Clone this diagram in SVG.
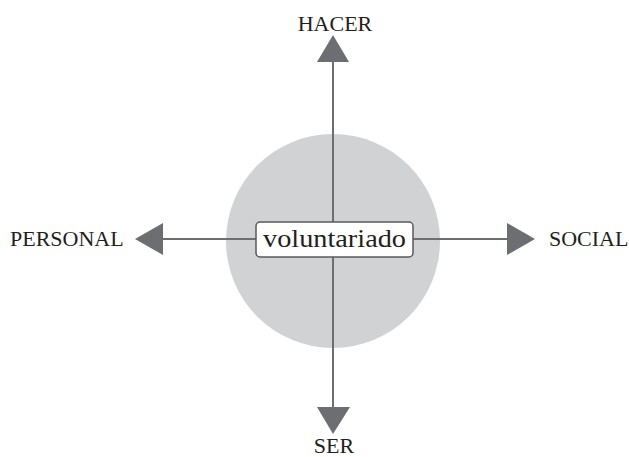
<svg xmlns="http://www.w3.org/2000/svg" width="629" height="457" viewBox="0 0 629 457">
  <style>
    .axis { stroke: #6d6e71; stroke-width: 2; fill: none; }
    .head { fill: #6d6e71; }
    .label { font-family: "Liberation Serif", "Times New Roman", serif; font-size: 22px; fill: #231f20; }
    .core { font-family: "Liberation Serif", "Times New Roman", serif; font-size: 26px; fill: #231f20; }
  </style>
  <rect width="629" height="457" fill="#ffffff"/>

  <!-- background disc -->
  <g id="disc">
    <circle cx="333" cy="241" r="107" fill="#d1d2d4"/>
  </g>

  <!-- axes with arrowheads -->
  <g id="connectors">
    <line class="axis" x1="333" y1="60" x2="333" y2="409"/>
    <line class="axis" x1="161" y1="239" x2="509" y2="239"/>
    <polygon class="head" points="333,35 349,62 317,62"/>
    <polygon class="head" points="333,434 350,407 317,407"/>
    <polygon class="head" points="135,239 163,223 163,255"/>
    <polygon class="head" points="535,239 507,223 507,255"/>
  </g>

  <g id="hacer">
    <text class="label" x="335" y="31" text-anchor="middle">HACER</text>
  </g>
  <g id="ser">
    <text class="label" x="334" y="453" text-anchor="middle">SER</text>
  </g>
  <g id="personal">
    <text class="label" x="10" y="246">PERSONAL</text>
  </g>
  <g id="social">
    <text class="label" x="549" y="246">SOCIAL</text>
  </g>

  <g id="voluntariado">
    <rect x="256" y="222" width="157" height="35" rx="4" ry="4" fill="#ffffff" stroke="#58595b" stroke-width="1.5"/>
    <text class="core" x="263" y="247" textLength="143" lengthAdjust="spacingAndGlyphs">voluntariado</text>
  </g>
</svg>
